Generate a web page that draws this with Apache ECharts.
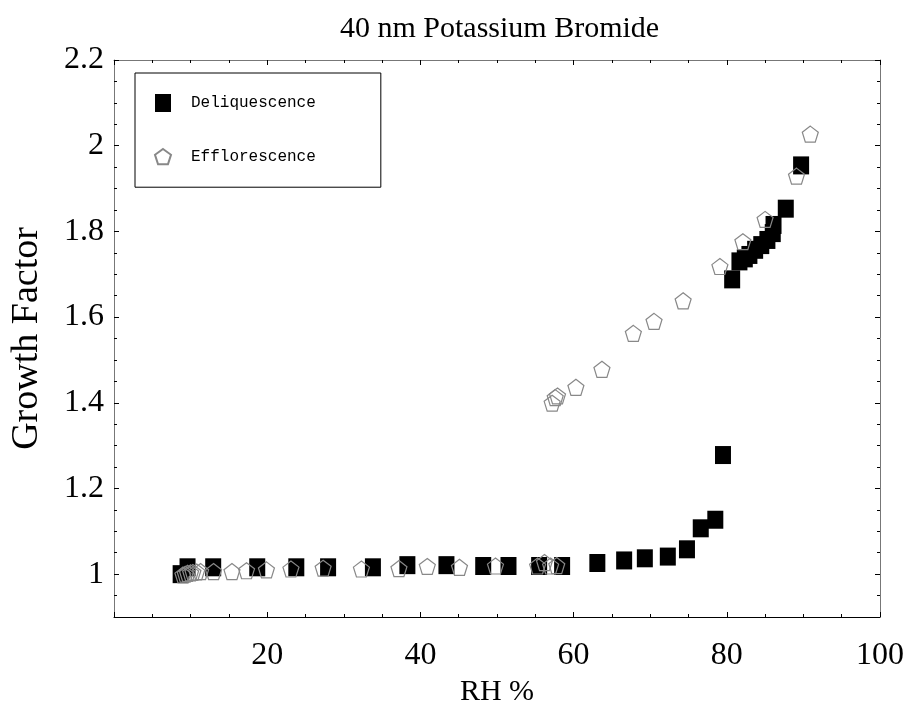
<!DOCTYPE html>
<html>
<head>
<meta charset="utf-8">
<script src="https://cdn.jsdelivr.net/npm/echarts@6/dist/echarts.min.js"></script>
<style>
  html, body { margin: 0; padding: 0; background: #fff; }
  #main { width: 909px; height: 714px; }
</style>
</head>
<body>
<div id="main"></div>
<script>
// deliquescence (filled squares)
const deliqRH = [8.7, 9.6, 12.95, 18.7, 23.8, 27.95, 33.8, 38.3, 43.4, 48.2, 51.5, 55.5, 58.5,
  63.1, 66.6, 69.3, 72.3, 74.8, 76.6, 78.5, 79.5, 80.7, 81.65, 82.35, 82.95, 83.7, 84.5, 85.3,
  86.0, 86.1, 87.7, 89.7];
const deliqGF = [1.0, 1.016, 1.016, 1.016, 1.016, 1.016, 1.016, 1.021, 1.021, 1.019, 1.019, 1.019, 1.019,
  1.026, 1.032, 1.037, 1.041, 1.058, 1.107, 1.127, 1.278, 1.688, 1.730, 1.737, 1.745, 1.757, 1.768, 1.78,
  1.796, 1.815, 1.853, 1.954];

// efflorescence (open pentagons)
const effloRH = [9.0, 9.3, 9.6, 10.0, 10.3, 10.8, 11.3, 13.0, 15.4, 17.3, 19.9, 23.1, 27.3, 32.3, 37.2,
  40.9, 45.1, 49.8, 55.3, 56.2, 57.0, 57.8, 57.2, 57.6, 57.9, 60.3, 63.7, 67.8, 70.5, 74.3, 79.1,
  82.1, 85.0, 89.1, 90.9];
const effloGF = [0.998, 1.0, 1.002, 1.003, 1.004, 1.005, 1.006, 1.006, 1.006, 1.008, 1.01, 1.012, 1.014, 1.012, 1.013,
  1.018, 1.016, 1.019, 1.019, 1.027, 1.019, 1.02, 1.399, 1.412, 1.416, 1.436, 1.478, 1.562, 1.590, 1.638, 1.718,
  1.776, 1.828, 1.929, 2.027];

const seriesNames = ['Deliquescence', 'Efflorescence'];

const pentagon = 'path://M0,-1L0.951,-0.309L0.588,0.809L-0.588,0.809L-0.951,-0.309Z';
const serif = 'Liberation Serif';

function pairs(xs, ys) {
  return xs.map((x, i) => [x, ys[i]]);
}

const chart = echarts.init(document.getElementById('main'));

const tickInside = { show: true, inside: true, length: 5, lineStyle: { color: '#000' } };
const minorInside = { show: true, splitNumber: 4, length: 3, lineStyle: { color: '#000' } };

chart.setOption({
  animation: false,
  backgroundColor: '#fff',
  title: {
    text: '40 nm Potassium Bromide',
    left: 335,
    top: 9,
    textStyle: { fontFamily: serif, fontSize: 30, fontWeight: 'normal', color: '#000' }
  },
  legend: {
    orient: 'vertical',
    left: 135,
    top: 73,
    data: seriesNames,
    borderColor: '#000',
    borderWidth: 1,
    padding: [21, 65, 22, 19],
    itemGap: 36,
    itemWidth: 16,
    itemHeight: 18,
    textStyle: { fontFamily: 'Liberation Mono', fontSize: 16, color: '#000', padding: [0, 0, 0, 15] }
  },
  grid: { left: 112, right: 29, top: 60, bottom: 97 },
  xAxis: [{
    type: 'value',
    min: 0,
    max: 100,
    interval: 20,
    name: 'RH %',
    nameLocation: 'middle',
    nameGap: 58,
    nameTextStyle: { fontFamily: serif, fontSize: 30, color: '#000' },
    axisLine: { lineStyle: { color: '#000', width: 1 } },
    axisTick: tickInside,
    minorTick: minorInside,
    splitLine: { show: false },
    axisLabel: { showMinLabel: false, margin: 23, fontFamily: serif, fontSize: 32, color: '#000' }
  }, {
    type: 'value',
    position: 'top',
    min: 0,
    max: 100,
    interval: 20,
    axisLine: { show: true, onZero: false, lineStyle: { color: '#777' } },
    axisTick: tickInside,
    minorTick: minorInside,
    splitLine: { show: false },
    axisLabel: { show: false }
  }],
  yAxis: [{
    type: 'value',
    min: 0.9,
    max: 2.2,
    splitNumber: 6,
    name: 'Growth Factor',
    nameLocation: 'middle',
    nameGap: 68,
    nameTextStyle: { fontFamily: serif, fontSize: 38, color: '#000' },
    axisLine: { show: true, lineStyle: { color: '#777', width: 1 } },
    axisTick: tickInside,
    minorTick: minorInside,
    splitLine: { show: false },
    axisLabel: { showMinLabel: false, margin: 10, fontFamily: serif, fontSize: 32, color: '#000' }
  }, {
    type: 'value',
    position: 'right',
    min: 0.9,
    max: 2.2,
    splitNumber: 6,
    axisLine: { show: true, onZero: false, lineStyle: { color: '#777' } },
    axisTick: tickInside,
    minorTick: minorInside,
    splitLine: { show: false },
    axisLabel: { show: false }
  }],
  series: [{
    name: seriesNames[0],
    type: 'scatter',
    symbol: 'rect',
    symbolSize: [16, 18],
    itemStyle: { color: '#000', opacity: 1 },
    data: pairs(deliqRH, deliqGF)
  }, {
    name: seriesNames[1],
    type: 'scatter',
    symbol: pentagon,
    symbolSize: 16,
    itemStyle: { color: 'rgba(255,255,255,0)', borderColor: '#888', borderWidth: 1.2, opacity: 1 },
    data: pairs(effloRH, effloGF)
  }]
});
</script>
</body>
</html>
